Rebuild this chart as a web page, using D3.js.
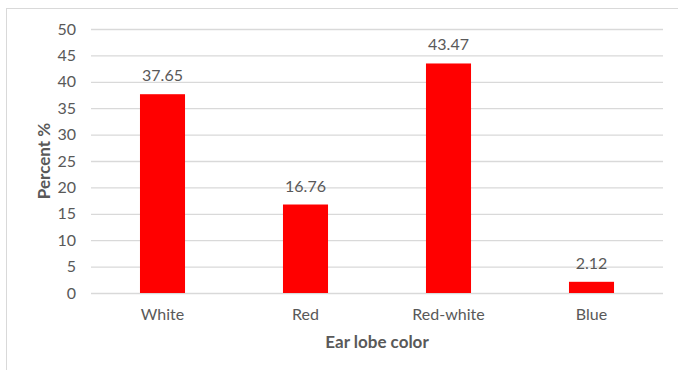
<!DOCTYPE html>
<html><head><meta charset="utf-8">
<script src="https://cdn.jsdelivr.net/npm/d3@7"></script>
<style>body{margin:0;background:#fff}svg{display:block}</style>
</head><body><svg id="c" width="678" height="370"></svg>
<script>
const categories = ["White", "Red", "Red-white", "Blue"];
const values = [37.65, 16.76, 43.47, 2.12];
const yTicks = [0, 5, 10, 15, 20, 25, 30, 35, 40, 45, 50];
const xTitle = "Ear lobe color";
const yTitle = "Percent %";

const svg = d3.select("#c");
const font = "Lato, 'Open Sans', sans-serif";
const txt = "#595959";
const m = {left: 91, right: 663, top: 29, bottom: 293};

svg.append("rect").attr("x", 6.5).attr("y", 8.5).attr("width", 700).attr("height", 400)
  .attr("fill", "none").attr("stroke", "#d9d9d9").attr("stroke-width", 1);

const x = d3.scaleBand().domain(categories).range([m.left, m.right]).paddingInner(0.685).paddingOuter(0.3425);
const y = d3.scaleLinear().domain([0, 50]).range([m.bottom, m.top]);

const yAxis = svg.append("g").attr("transform", `translate(${m.left},0)`)
  .call(d3.axisLeft(y).tickValues(yTicks).tickSize(-(m.right - m.left)).tickPadding(15));
yAxis.select(".domain").remove();
yAxis.selectAll(".tick line").attr("stroke", "#d9d9d9").attr("stroke-width", 1.3);
yAxis.selectAll(".tick text").attr("fill", txt).style("font-family", font).style("font-size", "16px");

svg.append("g").selectAll("rect").data(values).join("rect")
  .attr("x", (d, i) => x(categories[i])).attr("width", x.bandwidth())
  .attr("y", d => y(d)).attr("height", d => y(0) - y(d)).attr("fill", "#ff0000");

svg.append("g").selectAll("text").data(values).join("text")
  .attr("x", (d, i) => x(categories[i]) + x.bandwidth() / 2).attr("y", d => y(d) - 13)
  .attr("text-anchor", "middle").attr("fill", "#595959")
  .style("font-family", font).style("font-size", "16px").text(d => d.toFixed(2));

const xAxis = svg.append("g").attr("transform", `translate(0,${m.bottom})`)
  .call(d3.axisBottom(x).tickSize(0).tickPadding(16));
xAxis.select(".domain").remove();
xAxis.selectAll(".tick text").attr("fill", txt).style("font-family", font).style("font-size", "16px");

svg.append("text").attr("x", (m.left + m.right) / 2).attr("y", 348).attr("text-anchor", "middle")
  .attr("fill", txt).style("font-family", font).style("font-size", "17px").style("font-weight", "bold").text(xTitle);

svg.append("text").attr("transform", `translate(50,${(m.top + m.bottom) / 2}) rotate(-90)`).attr("text-anchor", "middle")
  .attr("fill", txt).style("font-family", font).style("font-size", "17px").style("font-weight", "bold").text(yTitle);
</script></body></html>
